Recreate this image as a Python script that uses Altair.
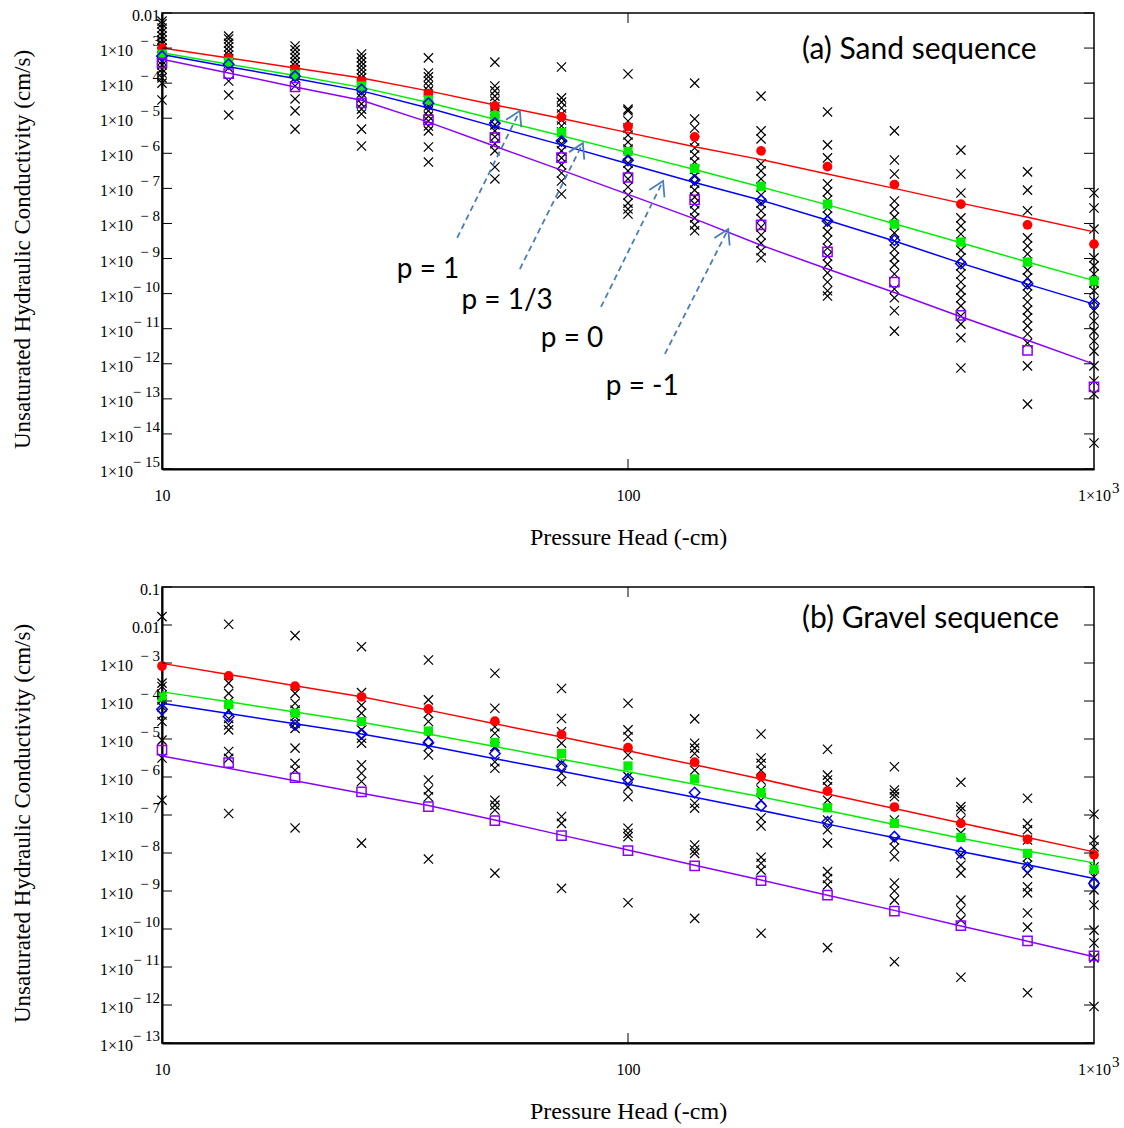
import altair as alt
import pandas as pd

# ---------------- data (log10 of K in cm/s) ----------------
HEADS = [10, 13.9, 19.3, 26.8, 37.3, 51.8, 72.0, 100, 139, 193, 268, 373, 518, 720, 1000]

# (a) Sand sequence
SAND_P1_PTS = [-3.00, -3.28, -3.60, -3.94, -4.30, -4.65, -4.96, -5.24, -5.53, -5.93, -6.38, -6.89, -7.45, -8.04, -8.59]
SAND_P1_FIT = [-3.00, -3.28, -3.57, -3.85, -4.22, -4.62, -5.01, -5.41, -5.81, -6.18, -6.59, -7.00, -7.42, -7.82, -8.24]
SAND_P13_PTS = [-3.18, -3.40, -3.75, -4.08, -4.48, -4.92, -5.41, -5.95, -6.43, -6.94, -7.45, -8.02, -8.53, -9.10, -9.64]
SAND_P13_FIT = [-3.13, -3.46, -3.78, -4.12, -4.55, -5.03, -5.50, -5.98, -6.46, -6.96, -7.47, -8.01, -8.55, -9.10, -9.63]
SAND_P0_PTS = [-3.23, -3.46, -3.80, -4.18, -4.57, -5.14, -5.65, -6.20, -6.76, -7.34, -7.93, -8.48, -9.14, -9.72, -10.29]
SAND_P0_FIT = [-3.18, -3.53, -3.87, -4.22, -4.71, -5.24, -5.76, -6.30, -6.83, -7.34, -7.91, -8.50, -9.13, -9.73, -10.30]
SAND_PM1_PTS = [-3.42, -3.73, -4.11, -4.56, -5.05, -5.55, -6.12, -6.69, -7.33, -8.04, -8.81, -9.67, -10.62, -11.62, -12.66]
SAND_PM1_FIT = [-3.32, -3.71, -4.11, -4.49, -5.11, -5.80, -6.48, -7.17, -7.87, -8.62, -9.30, -9.97, -10.66, -11.33, -12.01]

SAND_OBS = [
    [-2.23, -2.31, -2.43, -2.54, -2.66, -2.77, -2.88, -3.00, -3.11, -3.23, -3.37, -3.48, -3.60, -3.71, -3.85, -4.00, -4.48],
    [-2.66, -2.74, -2.86, -2.97, -3.08, -3.20, -3.31, -3.43, -3.57, -3.94, -4.34, -4.91],
    [-2.94, -3.05, -3.17, -3.28, -3.40, -3.51, -3.62, -3.74, -3.85, -4.08, -4.45, -4.79, -5.31],
    [-3.17, -3.28, -3.40, -3.51, -3.62, -3.74, -3.85, -4.00, -4.14, -4.28, -4.42, -4.59, -4.74, -4.88, -5.31, -5.79],
    [-3.28, -3.71, -3.82, -3.94, -4.08, -4.22, -4.37, -4.51, -4.65, -4.79, -4.94, -5.08, -5.22, -5.36, -5.82, -6.25],
    [-3.40, -4.08, -4.22, -4.37, -4.51, -4.68, -4.85, -5.02, -5.19, -5.36, -5.53, -5.73, -5.93, -6.39, -6.73],
    [-3.54, -4.42, -4.54, -4.71, -4.88, -5.05, -5.22, -5.39, -5.56, -5.73, -5.93, -6.13, -6.33, -6.56, -6.79, -7.16],
    [-3.74, -4.74, -4.79, -5.08, -5.28, -5.48, -5.68, -5.88, -6.08, -6.28, -6.50, -6.73, -6.96, -7.19, -7.42, -7.59, -7.73],
    [-4.00, -5.02, -5.28, -5.65, -5.85, -6.05, -6.25, -6.45, -6.65, -6.85, -7.05, -7.25, -7.44, -7.64, -7.84, -8.04, -8.21],
    [-4.37, -5.36, -5.59, -6.30, -6.50, -6.73, -6.96, -7.19, -7.42, -7.64, -7.87, -8.10, -8.33, -8.56, -8.78, -8.98],
    [-4.82, -5.76, -6.13, -6.87, -7.10, -7.33, -7.56, -7.79, -8.01, -8.24, -8.47, -8.70, -8.93, -9.16, -9.41, -9.67, -9.92, -10.07],
    [-5.36, -6.19, -6.59, -7.36, -7.59, -7.82, -8.04, -8.27, -8.50, -8.73, -8.96, -9.18, -9.44, -9.87, -10.12, -10.49, -11.07],
    [-5.91, -6.59, -7.13, -7.84, -8.07, -8.30, -8.53, -8.76, -8.98, -9.21, -9.44, -9.67, -9.90, -10.12, -10.35, -10.64, -10.87, -11.26, -12.12],
    [-6.53, -7.05, -7.64, -8.41, -8.64, -8.87, -9.10, -9.33, -9.55, -9.78, -10.01, -10.24, -10.47, -10.69, -10.92, -11.15, -11.41, -12.06, -13.15],
    [-7.13, -7.56, -8.16, -8.98, -9.21, -9.44, -9.70, -9.92, -10.21, -10.49, -10.78, -11.07, -11.35, -11.64, -12.06, -12.49, -12.86, -14.26],
]

# (b) Gravel sequence
GRAV_P1_PTS = [-3.08, -3.34, -3.61, -3.89, -4.21, -4.53, -4.88, -5.23, -5.61, -5.99, -6.37, -6.79, -7.22, -7.64, -8.05]
GRAV_P1_FIT = [-3.01, -3.30, -3.60, -3.89, -4.24, -4.60, -4.95, -5.31, -5.68, -6.05, -6.45, -6.83, -7.21, -7.59, -7.97]
GRAV_P13_PTS = [-3.90, -4.09, -4.32, -4.54, -4.79, -5.09, -5.38, -5.71, -6.05, -6.41, -6.81, -7.22, -7.59, -8.01, -8.43]
GRAV_P13_FIT = [-3.76, -4.02, -4.29, -4.56, -4.87, -5.20, -5.53, -5.86, -6.19, -6.52, -6.88, -7.25, -7.61, -7.95, -8.26]
GRAV_P0_PTS = [-4.22, -4.41, -4.63, -4.87, -5.10, -5.38, -5.71, -6.05, -6.41, -6.76, -7.18, -7.57, -7.99, -8.38, -8.80]
GRAV_P0_FIT = [-4.06, -4.33, -4.60, -4.87, -5.18, -5.52, -5.85, -6.19, -6.53, -6.88, -7.24, -7.60, -7.96, -8.31, -8.67]
GRAV_PM1_PTS = [-5.29, -5.62, -6.02, -6.39, -6.78, -7.15, -7.54, -7.94, -8.34, -8.73, -9.11, -9.53, -9.91, -10.31, -10.71]
GRAV_PM1_FIT = [-5.45, -5.77, -6.10, -6.43, -6.75, -7.13, -7.53, -7.92, -8.32, -8.71, -9.11, -9.51, -9.92, -10.32, -10.73]

GRAV_OBS = [
    [-1.78, -3.53, -3.62, -3.84, -3.97, -4.15, -4.37, -4.54, -5.03, -5.50, -6.61],
    [-1.98, -3.53, -3.80, -4.02, -4.24, -4.46, -4.63, -4.76, -5.33, -5.51, -6.96],
    [-2.28, -3.80, -4.06, -4.24, -4.41, -4.59, -4.72, -5.24, -5.64, -5.82, -7.34],
    [-2.57, -3.78, -4.11, -4.32, -4.54, -4.76, -4.98, -5.11, -5.68, -5.90, -6.12, -7.74],
    [-2.92, -3.97, -4.32, -4.54, -4.94, -5.20, -5.42, -6.08, -6.34, -6.52, -8.16],
    [-3.27, -4.19, -4.68, -4.85, -5.20, -5.60, -5.77, -6.61, -6.74, -6.87, -8.53],
    [-3.67, -4.46, -4.81, -5.11, -5.64, -5.90, -6.12, -7.04, -7.22, -8.93],
    [-4.06, -4.76, -4.94, -5.42, -5.99, -6.26, -6.52, -7.35, -7.48, -7.57, -9.31],
    [-4.47, -5.11, -5.24, -5.38, -5.82, -6.69, -6.82, -7.79, -7.92, -8.01, -9.72],
    [-4.87, -5.50, -5.64, -5.82, -6.08, -6.34, -6.61, -7.08, -7.29, -8.11, -8.27, -8.45, -10.11],
    [-5.27, -5.95, -6.08, -6.26, -6.61, -7.13, -7.39, -7.74, -8.49, -8.67, -8.84, -10.49],
    [-5.73, -6.34, -6.43, -6.52, -7.13, -7.66, -7.87, -8.10, -8.79, -9.00, -9.24, -10.86],
    [-6.14, -6.78, -6.87, -7.13, -7.47, -8.05, -8.32, -8.53, -9.24, -9.50, -9.76, -11.27],
    [-6.56, -7.22, -7.39, -7.66, -8.11, -8.32, -8.53, -8.89, -9.05, -9.58, -9.95, -11.68],
    [-6.98, -7.66, -7.84, -8.37, -8.63, -8.97, -9.37, -10.03, -10.37, -10.76, -12.04],
]

# annotation for panel (a): labels and dashed arrows (data coordinates)
NOTE_TEXT = ["p = 1", "p = 1/3", "p = 0", "p = -1"]
NOTE_H = [31.9, 43.9, 65.0, 89.6]
NOTE_EXP = [-9.55, -10.44, -11.52, -12.89]
ARROW_H0 = [43.0, 58.6, 87.5, 120.0]
ARROW_E0 = [-8.41, -9.30, -10.38, -11.72]
ARROW_H1 = [58.6, 80.0, 118.9, 164.1]
ARROW_E1 = [-4.79, -5.71, -6.79, -8.16]

# ---------------- styling ----------------
W, H = 932, 456
SERIF = "Liberation Serif"
SANS = "Lato"
XPATH = "M-1,-1L1,1M-1,1L1,-1"
HEAD = "M-0.6,1L0,0L0.6,1"
ARROW_COLOR = "#4a7ebb"

SERIES_STYLE = [
    dict(color="#ff0000", shape="circle", filled=True, size=95),
    dict(color="#00ee00", shape="square", filled=True, size=85),
    dict(color="#0000ff", shape="diamond", filled=False, size=110),
    dict(color="#8b00ff", shape="square", filled=False, size=85),
]


def panel(obs, series, e_top, e_bot, label, label_y, with_notes):
    exps = list(range(e_top, e_bot - 1, -1))
    yticks = [10.0 ** e for e in exps]
    xs = alt.Scale(type="log", domain=[10, 1000], nice=False)
    ys = alt.Scale(type="log", domain=[10.0 ** e_bot, 10.0 ** e_top], nice=False)
    xaxis = alt.Axis(
        values=[10, 100, 1000], ticks=False, grid=False, domainColor="black", domainWidth=2,
        labelExpr="datum.value >= 999 ? '1×10' : datum.value >= 99 ? '100' : '10'",
        labelFont=SERIF, labelFontSize=16, labelColor="black", labelPadding=18,
        labelFlush=False, labelOverlap=False,
        title="Pressure Head (-cm)", titleFont=SERIF, titleFontSize=24, titleFontWeight="normal",
        titleColor="black", titlePadding=22,
    )
    yaxis = alt.Axis(
        values=yticks, ticks=False, grid=False, domainColor="black", domainWidth=2,
        labels=False,
        title="Unsaturated Hydraulic Conductivity (cm/s)", titleFont=SERIF, titleFontSize=23,
        titleFontWeight="normal", titleColor="black", titleX=-140, titleY=H / 2 + 8,
        titleAlign="center", titleBaseline="middle", titleAngle=270,
    )
    X = alt.X("h:Q", scale=xs, axis=xaxis)
    Y = alt.Y("K:Q", scale=ys, axis=yaxis)

    rows = []
    for h, col in zip(HEADS, obs):
        for e in col:
            rows.append({"h": h, "K": 10.0 ** e})
    obs_df = pd.DataFrame(rows)

    layers = [
        alt.Chart(obs_df).mark_point(shape=XPATH, filled=False, stroke="black", strokeWidth=1.2,
                                     size=85, opacity=1).encode(x=X, y=Y)
    ]
    for (pts, fit), st in zip(series, SERIES_STYLE):
        fit_df = pd.DataFrame({"h": HEADS, "K": [10.0 ** e for e in fit]})
        layers.append(alt.Chart(fit_df).mark_line(color=st["color"], strokeWidth=1.5).encode(x=X, y=Y))
    for (pts, fit), st in zip(series, SERIES_STYLE):
        pts_df = pd.DataFrame({"h": HEADS, "K": [10.0 ** e for e in pts]})
        if st["filled"]:
            mk = alt.Chart(pts_df).mark_point(shape=st["shape"], filled=True, color=st["color"],
                                              size=st["size"], opacity=1, strokeWidth=0)
        else:
            mk = alt.Chart(pts_df).mark_point(shape=st["shape"], filled=False, color=st["color"],
                                              size=st["size"], opacity=1, strokeWidth=1.5)
        layers.append(mk.encode(x=X, y=Y))

    # tick labels drawn as text: mantissa and raised exponent
    lab_df = pd.DataFrame({
        "K": yticks,
        "m": ["0.1" if e == -1 else "0.01" if e == -2 else "1×10" for e in exps],
        "big": [e >= -2 for e in exps],
        "x": ["" if e >= -2 else "− " + str(-e) for e in exps],
    })
    layers.append(alt.Chart(lab_df).transform_filter("datum.big").mark_text(
        font=SERIF, fontSize=16, color="black", align="right", baseline="middle", dy=3).encode(
        y=Y, x=alt.value(-2), text="m:N"))
    layers.append(alt.Chart(lab_df).transform_filter("!datum.big").mark_text(
        font=SERIF, fontSize=16, color="black", align="right", baseline="middle", dy=3).encode(
        y=Y, x=alt.value(-29), text="m:N"))
    layers.append(alt.Chart(lab_df).transform_filter("!datum.big").mark_text(
        font=SERIF, fontSize=15, color="black", align="right", baseline="middle", dy=-7).encode(
        y=Y, x=alt.value(-2), text="x:N"))
    sup_df = pd.DataFrame({"t": ["3"]})
    layers.append(alt.Chart(sup_df).mark_text(
        font=SERIF, fontSize=15, color="black", align="left", baseline="middle").encode(
        x=alt.value(W + 18), y=alt.value(H + 19), text="t:N"))

    # inward ticks on all four sides
    tick_df = pd.DataFrame({"K": yticks})
    layers.append(alt.Chart(tick_df).mark_rule(color="black", strokeWidth=1).encode(
        y=Y, x=alt.value(0), x2=alt.value(10)))
    layers.append(alt.Chart(tick_df).mark_rule(color="black", strokeWidth=1).encode(
        y=Y, x=alt.value(W - 10), x2=alt.value(W)))
    xt_df = pd.DataFrame({"h": [100]})
    layers.append(alt.Chart(xt_df).mark_rule(color="black", strokeWidth=1).encode(
        x=X, y=alt.value(0), y2=alt.value(10)))
    layers.append(alt.Chart(xt_df).mark_rule(color="black", strokeWidth=1).encode(
        x=X, y=alt.value(H - 10), y2=alt.value(H)))

    if with_notes:
        arr_df = pd.DataFrame({
            "h": ARROW_H0, "K": [10.0 ** e for e in ARROW_E0],
            "h2": ARROW_H1, "K2": [10.0 ** e for e in ARROW_E1],
        })
        layers.append(alt.Chart(arr_df).mark_rule(color=ARROW_COLOR, strokeWidth=1.8,
                                                  strokeDash=[6, 4]).encode(
            x=X, y=Y, x2="h2:Q", y2="K2:Q"))
        head_df = pd.DataFrame({"h": ARROW_H1, "K": [10.0 ** e for e in ARROW_E1]})
        layers.append(alt.Chart(head_df).mark_point(shape=HEAD, filled=False, color=ARROW_COLOR,
                                                    strokeWidth=1.8, size=800, angle=26,
                                                    opacity=1).encode(x=X, y=Y))
        note_df = pd.DataFrame({"h": NOTE_H, "K": [10.0 ** e for e in NOTE_EXP], "t": NOTE_TEXT})
        layers.append(alt.Chart(note_df).mark_text(font=SANS, fontSize=28, color="black",
                                                   align="left", baseline="alphabetic").encode(
            x=X, y=Y, text="t:N"))

    title_df = pd.DataFrame({"t": [label]})
    layers.append(alt.Chart(title_df).mark_text(font=SANS, fontSize=30, color="black",
                                                align="left", baseline="alphabetic").encode(
        x=alt.value(640), y=alt.value(label_y), text="t:N"))

    return alt.layer(*layers).properties(width=W, height=H)


sand = panel(
    SAND_OBS,
    [(SAND_P1_PTS, SAND_P1_FIT), (SAND_P13_PTS, SAND_P13_FIT),
     (SAND_P0_PTS, SAND_P0_FIT), (SAND_PM1_PTS, SAND_PM1_FIT)],
    -2, -15, "(a) Sand sequence", 46, True,
)
gravel = panel(
    GRAV_OBS,
    [(GRAV_P1_PTS, GRAV_P1_FIT), (GRAV_P13_PTS, GRAV_P13_FIT),
     (GRAV_P0_PTS, GRAV_P0_FIT), (GRAV_PM1_PTS, GRAV_PM1_FIT)],
    -1, -13, "(b) Gravel sequence", 41, False,
)

chart = (
    alt.vconcat(sand, gravel, spacing=31)
    .properties(padding={"left": 10, "top": 7, "right": 1, "bottom": 2}, background="white")
    .configure_view(stroke="black", strokeWidth=1.5)
)

chart.save("out.html", embed_options={"renderer": "svg", "actions": False})
